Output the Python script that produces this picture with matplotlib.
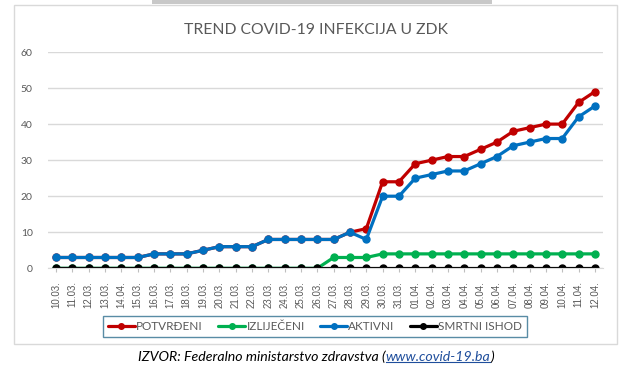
import matplotlib
matplotlib.use('Agg')
import matplotlib.pyplot as plt
from matplotlib.patches import Rectangle
from matplotlib.lines import Line2D

# podaci s grafa (ZDK, 10.03. - 12.04.)
dates = ['10.03.', '11.03.', '12.03.', '13.03.', '14.04.', '15.03.', '16.03.', '17.03.',
         '18.03.', '19.03.', '20.03.', '21.03.', '22.03.', '23.03.', '24.03.', '25.03.',
         '26.03.', '27.03.', '28.03.', '29.03.', '30.03.', '31.03.', '01.04.', '02.04.',
         '03.04.', '04.04.', '05.04.', '06.04.', '07.04.', '08.04.', '09.04.', '10.04.',
         '11.04.', '12.04.']
potvrdjeni = [3, 3, 3, 3, 3, 3, 4, 4, 4, 5, 6, 6, 6, 8, 8, 8, 8, 8, 10, 11,
              24, 24, 29, 30, 31, 31, 33, 35, 38, 39, 40, 40, 46, 49]
izlijeceni = [0, 0, 0, 0, 0, 0, 0, 0, 0, 0, 0, 0, 0, 0, 0, 0, 0, 3, 3, 3,
              4, 4, 4, 4, 4, 4, 4, 4, 4, 4, 4, 4, 4, 4]
aktivni = [3, 3, 3, 3, 3, 3, 4, 4, 4, 5, 6, 6, 6, 8, 8, 8, 8, 8, 10, 8,
           20, 20, 25, 26, 27, 27, 29, 31, 34, 35, 36, 36, 42, 45]
smrtni = [0] * len(dates)

series = [
    ('POTVRĐENI', potvrdjeni, '#c00000'),
    ('IZLIJEČENI', izlijeceni, '#00b050'),
    ('AKTIVNI', aktivni, '#0070c0'),
    ('SMRTNI ISHOD', smrtni, '#000000'),
]

W, H, DPI = 625, 375, 100
GRAY = '#595959'
plt.rcParams['font.family'] = ['Lato', 'DejaVu Sans']

fig = plt.figure(figsize=(W / DPI, H / DPI), dpi=DPI)


def fx(px):
    return px / W


def fy(py):
    return 1 - py / H


# okvir grafikona i siva traka na vrhu
fig.patches.append(Rectangle((fx(14), fy(344)), fx(617) - fx(14), fy(5) - fy(344),
                             transform=fig.transFigure, fill=False,
                             edgecolor='#d9d9d9', linewidth=1))
fig.patches.append(Rectangle((fx(152), fy(4)), fx(492) - fx(152), fy(0) - fy(4),
                             transform=fig.transFigure, facecolor='#c8c8c8',
                             edgecolor='none'))

ax = fig.add_axes([fx(48), fy(268.3), fx(603) - fx(48), fy(52) - fy(268.3)])
x = list(range(len(dates)))
for name, vals, color in series:
    ax.plot(x, vals, color=color, linewidth=2.3, marker='o', markersize=5,
            label=name, solid_capstyle='round')

ax.set_xlim(-0.5, len(dates) - 0.5)
ax.set_ylim(0, 60)
ax.set_yticks(range(0, 61, 10))
ax.grid(axis='y', color='#d9d9d9', linewidth=1)
ax.set_axisbelow(True)
for s in ['top', 'right', 'left']:
    ax.spines[s].set_visible(False)
ax.spines['bottom'].set_color('#d9d9d9')
ax.set_xticks(x)
ax.set_xticklabels(dates, rotation=90, fontsize=7, color=GRAY,
                   family=['Liberation Sans', 'DejaVu Sans'])
ax.tick_params(axis='x', length=3, color='#bfbfbf', pad=6)
ax.tick_params(axis='y', length=0, pad=11, labelsize=7.5, labelcolor=GRAY)

fig.text(fx(316), fy(30), 'TREND COVID-19 INFEKCIJA U ZDK', ha='center', va='center',
         fontsize=11.3, color=GRAY)

leg = ax.legend(loc='center', bbox_to_anchor=(fx(315), fy(326.5)),
                bbox_transform=fig.transFigure, ncol=4, fontsize=8.5,
                frameon=True, fancybox=False, handlelength=2.3, handletextpad=0.1,
                columnspacing=1.3, borderpad=0.4, labelcolor=GRAY)
leg.get_frame().set_edgecolor('#2f6f8f')
leg.get_frame().set_linewidth(1)
for h in leg.legend_handles:
    h.set_markersize(4)

# izvor ispod grafikona
fig.canvas.draw()
r = fig.canvas.get_renderer()
ypos = fy(357)
fs = 10.2
t1 = fig.text(fx(138), ypos, 'IZVOR: Federalno ministarstvo zdravstva (', ha='left',
              va='center', fontsize=fs, style='italic', color='black')
bb = t1.get_window_extent(r)
t2 = fig.text(bb.x1 / W, ypos, 'www.covid-19.ba', ha='left', va='center', fontsize=fs,
              style='italic', color='#1f4e9c')
bb2 = t2.get_window_extent(r)
fig.text(bb2.x1 / W, ypos, ')', ha='left', va='center', fontsize=fs, style='italic',
         color='black')
fig.add_artist(Line2D([bb2.x0 / W, bb2.x1 / W], [bb2.y0 / H + 0.004, bb2.y0 / H + 0.004],
                      transform=fig.transFigure, color='#1f4e9c', linewidth=0.8))

fig.savefig('out.png', dpi=DPI)
